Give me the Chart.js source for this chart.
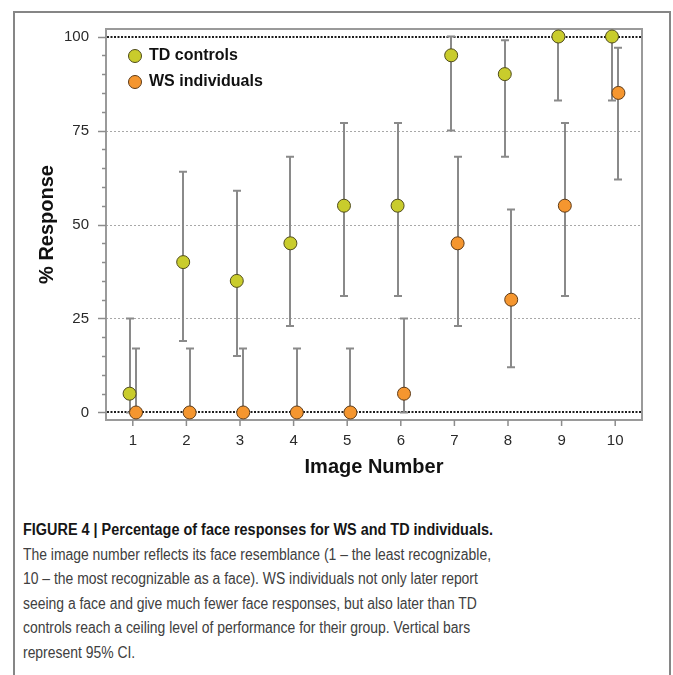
<!DOCTYPE html>
<html><head><meta charset="utf-8">
<script src="https://cdn.jsdelivr.net/npm/chart.js@4.4.1/dist/chart.umd.min.js"></script>
<style>
html,body{margin:0;padding:0;background:#fff;width:673px;height:675px;overflow:hidden;}
#frame{position:absolute;left:13px;top:11px;width:654px;height:720px;border:2px solid #868686;}
#wrap{position:absolute;left:0;top:0;width:673px;height:500px;}
#caption{position:absolute;left:23px;top:518px;font-family:"Liberation Sans",Arial,sans-serif;font-size:16px;line-height:24.5px;color:#404040;}
.line{white-space:nowrap;transform-origin:0 0;width:max-content;}
.bold{font-weight:bold;color:#161616;}
</style></head><body>
<div id="frame"></div>
<div id="wrap"><canvas id="c" width="673" height="500"></canvas></div>
<div id="caption">
<div class="line bold">FIGURE 4 | Percentage of face responses for WS and TD individuals.</div>
<div class="line body">The image number reflects its face resemblance (1 – the least recognizable,</div>
<div class="line body">10 – the most recognizable as a face). WS individuals not only later report</div>
<div class="line body">seeing a face and give much fewer face responses, but also later than TD</div>
<div class="line body">controls reach a ceiling level of performance for their group. Vertical bars</div>
<div class="line body">represent 95% CI.</div>
</div>
<script>
// ---- data ----
const images = [1, 2, 3, 4, 5, 6, 7, 8, 9, 10];
const seriesNames = ['TD controls', 'WS individuals'];
const tdMean = [5, 40, 35, 45, 55, 55, 95, 90, 100, 100];
const tdLow  = [0, 19, 15, 23, 31, 31, 75, 68, 83, 83];
const tdHigh = [25, 64, 59, 68, 77, 77, 100, 99, 100, 100];
const wsMean = [0, 0, 0, 0, 0, 5, 45, 30, 55, 85];
const wsLow  = [0, 0, 0, 0, 0, 0, 23, 12, 31, 62];
const wsHigh = [17, 17, 17, 17, 17, 25, 68, 54, 77, 97];
const yTickValues = [0, 5, 10, 15, 20, 25, 30, 35, 40, 45, 50, 55, 60, 65, 70, 75, 80, 85, 90, 95, 100];
const yLabelValues = [0, 25, 50, 75, 100];
const refLineValues = [0, 100];
const gridLineValues = [25, 50, 75];

// ---- caption fitting ----
function fitLines(cls, target) {
  const els = document.querySelectorAll('.' + cls);
  const w = els[0].getBoundingClientRect().width;
  const s = target / w;
  els.forEach(e => { e.style.transform = 'scaleX(' + s + ')'; });
}
fitLines('bold', 470);
fitLines('body', 468);

// ---- chart ----
const FONT = '"Liberation Sans", Arial, sans-serif';
const DX = 0.06;
const groups = [
  {label: seriesNames[0], mean: tdMean, low: tdLow, high: tdHigh, dx: -DX, fill: '#c9cc2c', edge: '#4f4b1c'},
  {label: seriesNames[1], mean: wsMean, low: wsLow, high: wsHigh, dx: DX, fill: '#f5962f', edge: '#5e3b18'}
];

const decor = {
  id: 'decor',
  beforeDraw(chart) {
    const a = chart.chartArea;
    if (chart.legend) { chart.legend.left = a.left + 13; chart.legend.top = a.top + 9; }
  },
  beforeDatasetsDraw(chart) {
    const {ctx, chartArea: a, scales: {x, y}} = chart;
    ctx.save();
    // light grid
    ctx.strokeStyle = '#a8a8a8'; ctx.lineWidth = 1; ctx.setLineDash([2, 2]);
    gridLineValues.forEach(v => {
      const py = Math.round(y.getPixelForValue(v)) + 0.5;
      ctx.beginPath(); ctx.moveTo(a.left, py); ctx.lineTo(a.right, py); ctx.stroke();
    });
    // frame
    ctx.setLineDash([]);
    ctx.strokeStyle = '#9a9a9a'; ctx.lineWidth = 2;
    ctx.strokeRect(a.left, a.top, a.right - a.left, a.bottom - a.top);
    // ticks
    ctx.strokeStyle = '#8c8c8c'; ctx.lineWidth = 1.5;
    yTickValues.forEach(v => {
      const py = Math.round(y.getPixelForValue(v)) + 0.5;
      const len = yLabelValues.includes(v) ? 8 : 4;
      ctx.beginPath(); ctx.moveTo(a.left - len, py); ctx.lineTo(a.left, py); ctx.stroke();
    });
    images.forEach(v => {
      const px = x.getPixelForValue(v);
      ctx.beginPath(); ctx.moveTo(px, a.bottom); ctx.lineTo(px, a.bottom + 6); ctx.stroke();
    });
    // dark reference lines
    ctx.strokeStyle = '#1e1e1e'; ctx.lineWidth = 2; ctx.setLineDash([2, 1.5]);
    refLineValues.forEach(v => {
      const py = Math.round(y.getPixelForValue(v));
      ctx.beginPath(); ctx.moveTo(a.left + 1, py); ctx.lineTo(a.right - 1, py); ctx.stroke();
    });
    // error bars
    ctx.setLineDash([]);
    ctx.strokeStyle = '#8a8a8a'; ctx.lineWidth = 2;
    groups.forEach(g => {
      images.forEach((im, i) => {
        const px = Math.round(x.getPixelForValue(im + g.dx));
        const pl = y.getPixelForValue(g.low[i]);
        const ph = y.getPixelForValue(g.high[i]);
        ctx.beginPath();
        ctx.moveTo(px, pl); ctx.lineTo(px, ph);
        ctx.moveTo(px - 4, ph); ctx.lineTo(px + 4, ph);
        ctx.moveTo(px - 4, pl); ctx.lineTo(px + 4, pl);
        ctx.stroke();
      });
    });
    ctx.restore();
  }
};

new Chart(document.getElementById('c'), {
  type: 'scatter',
  data: {
    datasets: groups.map(g => ({
      label: g.label,
      data: images.map((im, i) => ({x: im + g.dx, y: g.mean[i]})),
      pointRadius: 6.5, pointHoverRadius: 6.5,
      backgroundColor: g.fill, pointBackgroundColor: g.fill,
      borderColor: g.edge, pointBorderColor: g.edge,
      borderWidth: 1, pointBorderWidth: 1, showLine: false
    }))
  },
  options: {
    responsive: false, animation: false, devicePixelRatio: 1,
    events: [],
    layout: {padding: {left: 0, top: 29, right: 31, bottom: 0}},
    plugins: {
      tooltip: {enabled: false},
      legend: {
        position: 'chartArea', align: 'start',
        labels: {usePointStyle: true, pointStyle: 'circle', boxWidth: 12, boxHeight: 9.2, padding: 10,
          color: '#111', font: {family: FONT, size: 16, weight: 'bold'}}
      }
    },
    scales: {
      x: {
        type: 'linear', min: 0.5, max: 10.5,
        afterBuildTicks: s => { s.ticks = images.map(v => ({value: v})); },
        afterFit: s => { s.height = 80; },
        grid: {display: false}, border: {display: false},
        ticks: {autoSkip: false, maxRotation: 0, padding: 4, color: '#2a2a2a', font: {family: FONT, size: 15}, callback: v => String(v)},
        title: {display: true, text: 'Image Number', color: '#111', font: {family: FONT, size: 20, weight: 'bold'}, padding: {top: 0, bottom: 21}}
      },
      y: {
        type: 'linear', min: -2, max: 102,
        afterBuildTicks: s => { s.ticks = yTickValues.map(v => ({value: v})); },
        afterFit: s => { s.width = 106; },
        grid: {display: false}, border: {display: false},
        ticks: {autoSkip: false, padding: 9, color: '#2a2a2a', font: {family: FONT, size: 15}, callback: v => yLabelValues.includes(v) ? String(v) : ''},
        title: {display: true, text: '% Response', color: '#111', font: {family: FONT, size: 20, weight: 'bold'}, padding: {top: 35, bottom: 0}}
      }
    }
  },
  plugins: [decor]
});
</script>
</body></html>
